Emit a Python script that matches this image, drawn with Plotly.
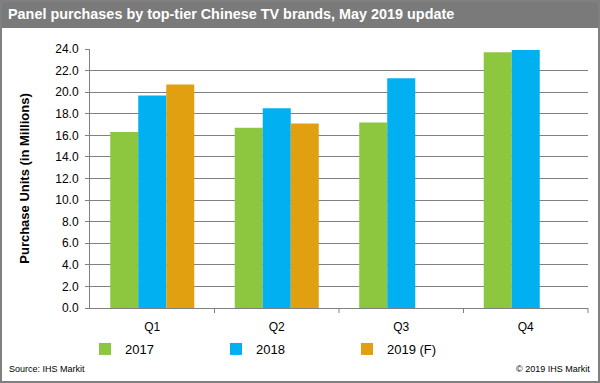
import plotly.graph_objects as go

categories = ["Q1", "Q2", "Q3", "Q4"]
series_names = ["2017", "2018", "2019 (F)"]
v2017 = [16.3, 16.7, 17.2, 23.7]
v2018 = [19.7, 18.5, 21.3, 23.9]
v2019f = [20.7, 17.1, None, None]
colors = ["#8dc63f", "#00b0f0", "#e0a010"]
y_ticks = [0, 2, 4, 6, 8, 10, 12, 14, 16, 18, 20, 22, 24]

W, H = 498, 259  # plot area size in px

fig = go.Figure()
for name, vals, c in zip(series_names, [v2017, v2018, v2019f], colors):
    fig.add_trace(go.Bar(x=categories, y=vals, name=name, marker=dict(color=c, line=dict(width=0))))

fig.update_layout(
    width=600, height=383,
    margin=dict(l=90, r=12, t=49, b=75, autoexpand=False),
    paper_bgcolor="white", plot_bgcolor="white",
    barmode="group", bargap=0.325, bargroupgap=0,
    font=dict(family="Arial, Liberation Sans, sans-serif", color="black"),
    showlegend=True,
    legend=dict(orientation="h", x=-5/W, xanchor="left", y=-41/H, yanchor="middle",
                entrywidth=86, entrywidthmode="pixels", font=dict(size=13),
                itemclick=False, bgcolor="rgba(0,0,0,0)", tracegroupgap=0),
    xaxis=dict(showline=True, linecolor="#808080", linewidth=1, ticks="",
               tickfont=dict(size=12), showgrid=False, automargin=False,
               ticklabelstandoff=8),
    yaxis=dict(range=[0, 24], tickvals=y_ticks, tickformat=".1f",
               showgrid=True, gridcolor="#808080", gridwidth=1,
               showline=True, linecolor="#808080", linewidth=1,
               ticks="outside", ticklen=4, tickcolor="#808080",
               tickfont=dict(size=12), automargin=False, ticklabelstandoff=4,
               title=dict(text="<b>Purchase Units (in Millions)</b>", font=dict(size=13), standoff=22),
               zeroline=False),
)

# Title bar and border
fig.add_shape(type="rect", xref="paper", yref="paper",
              x0=-90/W, x1=1+12/W, y0=1+(49-28)/H, y1=1+49/H,
              fillcolor="#7a7a7a", line=dict(width=0), layer="below")
fig.add_shape(type="rect", xref="paper", yref="paper",
              x0=-89/W, x1=1+11/W, y0=-74/H, y1=1+48/H,
              fillcolor="rgba(0,0,0,0)", line=dict(color="#808080", width=2))
# x-axis category separators
for b in [0.25, 0.5, 0.75, 1.0]:
    fig.add_shape(type="line", xref="paper", yref="paper", x0=b, x1=b, y0=0, y1=-5/H,
                  line=dict(color="#808080", width=1))

fig.add_annotation(text="<b>Panel purchases by top-tier Chinese TV brands, May 2019 update</b>",
                   xref="paper", yref="paper", x=-84/W, y=1+35/H, xanchor="left", yanchor="middle",
                   showarrow=False, font=dict(size=14.4, color="white"))
fig.add_annotation(text="Source: IHS Markit", xref="paper", yref="paper",
                   x=-83/W, y=-61/H, xanchor="left", yanchor="middle",
                   showarrow=False, font=dict(size=9))
fig.add_annotation(text="© 2019 IHS Markit", xref="paper", yref="paper",
                   x=1+4/W, y=-61/H, xanchor="right", yanchor="middle",
                   showarrow=False, font=dict(size=9))

fig.write_html("out.html", config={"displayModeBar": False},
               post_script="document.body.style.margin='0';document.body.style.padding='0';")
